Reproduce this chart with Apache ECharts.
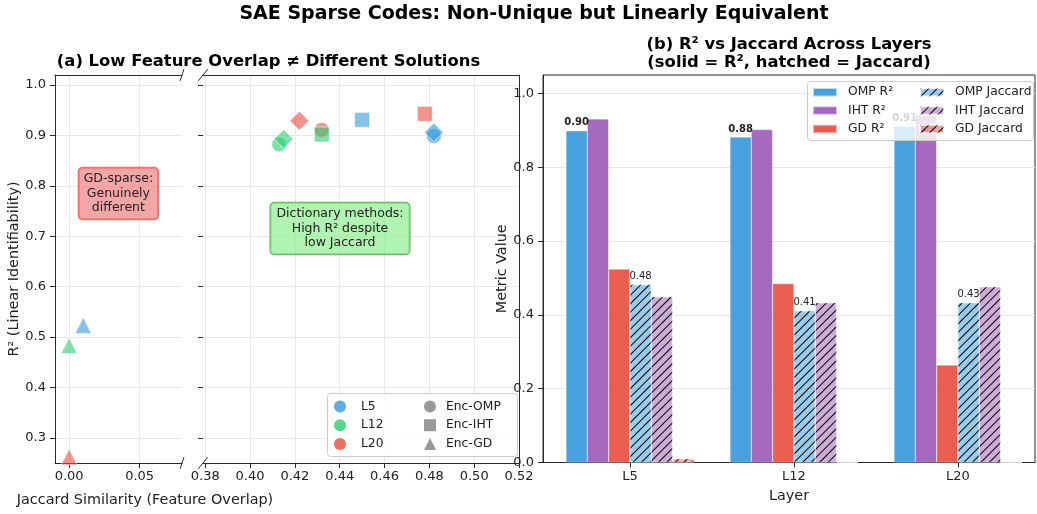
<!DOCTYPE html>
<html><head><meta charset="utf-8">
<script src="https://cdn.jsdelivr.net/npm/echarts@6/dist/echarts.min.js"></script>
<style>html,body{margin:0;padding:0;background:#fff}#c{width:1037px;height:514px}</style>
</head><body><div id="c"></div>
<script>
// ---------- data ----------
const layers = ['L5', 'L12', 'L20'];
const layerColors = ['#3498db', '#2ecc71', '#e74c3c'];
// Panel (a): Jaccard similarity vs R² for each layer
const encOmpJaccard = [0.482, 0.413, 0.432];
const encOmpR2      = [0.899, 0.882, 0.911];
const encIhtJaccard = [0.450, 0.432, 0.478];
const encIhtR2      = [0.931, 0.902, 0.943];
const encGdJaccard  = [0.010, 0.000, 0.000];
const encGdR2       = [0.523, 0.483, 0.262];
const dictJaccard   = [0.482, 0.415, 0.422];
const dictR2        = [0.906, 0.893, 0.929];
// Panel (b): bars per layer
const ompR2  = [0.899, 0.882, 0.911];
const ihtR2  = [0.931, 0.902, 0.943];
const gdR2   = [0.524, 0.485, 0.264];
const ompJac = [0.482, 0.411, 0.433];
const ihtJac = [0.449, 0.433, 0.476];
const gdJac  = [0.010, 0.000, 0.000];
// tick labels
const yTicksA    = [0.3, 0.4, 0.5, 0.6, 0.7, 0.8, 0.9, 1.0];
const xTicksLow  = [0.00, 0.05];
const xTicksHigh = [0.38, 0.40, 0.42, 0.44, 0.46, 0.48, 0.50, 0.52];
const yTicksB    = [0.0, 0.2, 0.4, 0.6, 0.8, 1.0];
const layerTicks = [0, 1, 2];

// ---------- styles ----------
const FONT = '"DejaVu Sans", sans-serif';
const TXT = '#222';
const AX = '#2a2a2a';
const GRIDC = '#e8e8e8';
const grids = [
  {left: 55, top: 75, width: 127, height: 388},
  {left: 203, top: 75, width: 316, height: 388},
  {left: 543, top: 75, width: 492, height: 387.5, show: true, borderColor: AX, borderWidth: 1, backgroundColor: 'transparent'}
];
const bRange = [-0.53, 2.47];
const pxPerUnit = grids[2].width / (bRange[1] - bRange[0]);
const barW = 0.13;

const tickStyle = {show: true, length: 5, lineStyle: {color: AX, width: 1}};
const labelStyle = {color: TXT, fontSize: 13, fontFamily: FONT};
const split = {show: true, lineStyle: {color: GRIDC, width: 1}};
const lineOnly = {axisLine: {show: true, lineStyle: {color: AX, width: 1}}, axisTick: {show: false}, axisLabel: {show: false}, splitLine: {show: false}};

const xAxes = [
  {gridIndex: 0, type: 'value', min: -0.01, max: 0.08, position: 'bottom',
   axisLine: {show: true, onZero: false, lineStyle: {color: AX, width: 1}},
   axisTick: Object.assign({customValues: xTicksLow}, tickStyle),
   axisLabel: Object.assign({customValues: xTicksLow, margin: 7, formatter: v => v.toFixed(2)}, labelStyle),
   splitLine: split},
  Object.assign({gridIndex: 0, type: 'value', min: -0.01, max: 0.08, position: 'top'}, lineOnly),
  {gridIndex: 1, type: 'value', min: 0.379, max: 0.52, position: 'bottom',
   axisLine: {show: true, onZero: false, lineStyle: {color: AX, width: 1}},
   axisTick: Object.assign({customValues: xTicksHigh}, tickStyle),
   axisLabel: Object.assign({customValues: xTicksHigh, margin: 7, formatter: v => v.toFixed(2)}, labelStyle),
   splitLine: split},
  Object.assign({gridIndex: 1, type: 'value', min: 0.379, max: 0.52, position: 'top'}, lineOnly),
  {gridIndex: 2, type: 'value', min: bRange[0], max: bRange[1], position: 'bottom',
   name: 'Layer', nameLocation: 'middle', nameGap: 27,
   nameTextStyle: {color: TXT, fontSize: 14.4, fontFamily: FONT},
   axisLine: {show: true, onZero: false, lineStyle: {color: AX, width: 1}},
   axisTick: Object.assign({customValues: layerTicks}, tickStyle),
   axisLabel: Object.assign({customValues: layerTicks, margin: 8, formatter: v => layers[Math.round(v)]}, labelStyle),
   splitLine: {show: false}}
];
const yAxes = [
  {gridIndex: 0, type: 'value', min: 0.25, max: 1.02, position: 'left',
   name: 'R² (Linear Identifiability)', nameLocation: 'middle', nameGap: 34, nameRotate: 90,
   nameTextStyle: {color: TXT, fontSize: 14.4, fontFamily: FONT},
   axisLine: {show: true, onZero: false, lineStyle: {color: AX, width: 1}},
   axisTick: Object.assign({customValues: yTicksA}, tickStyle),
   axisLabel: Object.assign({customValues: yTicksA, margin: 9, formatter: v => v.toFixed(1)}, labelStyle),
   splitLine: split},
  {gridIndex: 1, type: 'value', min: 0.25, max: 1.02, position: 'left',
   axisLine: {show: false},
   axisTick: Object.assign({customValues: yTicksA}, tickStyle),
   axisLabel: {show: false, customValues: yTicksA},
   splitLine: split},
  Object.assign({gridIndex: 1, type: 'value', min: 0.25, max: 1.02, position: 'right'}, lineOnly),
  {gridIndex: 2, type: 'value', min: 0, max: 1.05, position: 'left',
   name: 'Metric Value', nameLocation: 'middle', nameGap: 33, nameRotate: 90,
   nameTextStyle: {color: TXT, fontSize: 14.4, fontFamily: FONT},
   axisLine: {show: true, onZero: false, lineStyle: {color: AX, width: 1}},
   axisTick: Object.assign({customValues: yTicksB}, tickStyle),
   axisLabel: Object.assign({customValues: yTicksB, margin: 9, formatter: v => v.toFixed(1)}, labelStyle),
   splitLine: split}
];

// ---------- scatter series ----------
const methods = [
  {key: 'Enc-OMP', symbol: 'circle', size: 15, j: encOmpJaccard, r: encOmpR2},
  {key: 'Enc-IHT', symbol: 'rect', size: 15, j: encIhtJaccard, r: encIhtR2},
  {key: 'Enc-GD', symbol: 'triangle', size: 16, j: encGdJaccard, r: encGdR2},
  {key: 'Dict', symbol: 'diamond', size: 19, j: dictJaccard, r: dictR2}
];
const series = [];
methods.forEach(m => {
  layers.forEach((L, li) => {
    const pt = [m.j[li], m.r[li]];
    const low = pt[0] < 0.2;
    series.push({
      type: 'scatter', name: L + ' ' + m.key,
      xAxisIndex: low ? 0 : 2, yAxisIndex: low ? 0 : 1,
      symbol: m.symbol, symbolSize: m.size,
      itemStyle: {color: layerColors[li], opacity: 0.6, borderColor: '#fff', borderWidth: 1},
      data: [pt], z: 3
    });
  });
});
// legend proxies (no data)
layers.forEach((L, li) => series.push({type: 'scatter', name: L, xAxisIndex: 2, yAxisIndex: 1, symbol: 'circle', itemStyle: {color: layerColors[li]}, data: []}));
[['Enc-OMP', 'circle'], ['Enc-IHT', 'rect'], ['Enc-GD', 'triangle']].forEach(([n, s]) =>
  series.push({type: 'scatter', name: n, xAxisIndex: 2, yAxisIndex: 1, symbol: s, itemStyle: {color: '#808080'}, data: []}));

// ---------- bar series ----------
const hatch = {symbol: 'rect', symbolSize: 1, dashArrayX: [1, 0], dashArrayY: [1, 5], rotation: -Math.PI / 4, color: '#000'};
const bars = [
  {name: 'OMP R²', vals: ompR2, color: 'rgba(52,152,219,0.9)', label: 'bold'},
  {name: 'IHT R²', vals: ihtR2, color: 'rgba(155,89,182,0.9)'},
  {name: 'GD R²', vals: gdR2, color: 'rgba(231,76,60,0.9)'},
  {name: 'OMP Jaccard', vals: ompJac, color: 'rgba(52,152,219,0.5)', hatch: true, label: 'normal'},
  {name: 'IHT Jaccard', vals: ihtJac, color: 'rgba(155,89,182,0.5)', hatch: true},
  {name: 'GD Jaccard', vals: gdJac, color: 'rgba(231,76,60,0.5)', hatch: true}
];
bars.forEach((b, i) => {
  const s = {
    type: 'bar', name: b.name, xAxisIndex: 4, yAxisIndex: 3,
    barWidth: barW * pxPerUnit, barGap: '-100%',
    itemStyle: {color: b.color, borderColor: 'rgba(255,255,255,0.6)', borderWidth: 0.5},
    data: b.vals.map((v, k) => [k + (i - 2.5) * barW, v]), z: 2
  };
  if (b.hatch) s.itemStyle.decal = hatch;
  if (b.label) s.label = {show: true, position: 'top', distance: 3, fontSize: 10, fontFamily: FONT, color: TXT,
                          fontWeight: b.label, formatter: p => p.value[1].toFixed(2)};
  series.push(s);
});

// ---------- legends ----------
const legText = {color: TXT, fontSize: 12.3, fontFamily: FONT, lineHeight: 14};
const legends = [
  {data: ['L5', 'L12', 'L20'], orient: 'vertical', left: 334, top: 399.5, itemWidth: 12, itemHeight: 12, itemGap: 4.7,
   textStyle: Object.assign({padding: [0, 0, 0, 10]}, legText)},
  {data: ['Enc-OMP', 'Enc-IHT', 'Enc-GD'], orient: 'vertical', left: 424, top: 399.5, itemWidth: 12, itemHeight: 12, itemGap: 4.7,
   textStyle: Object.assign({padding: [0, 0, 0, 5]}, legText)},
  {data: ['OMP R²', 'IHT R²', 'GD R²'], orient: 'vertical', left: 812, top: 85.3, icon: 'rect', itemWidth: 24, itemHeight: 8.5, itemGap: 4.3,
   textStyle: Object.assign({padding: [0, 0, 0, 6]}, legText)},
  {data: ['OMP Jaccard', 'IHT Jaccard', 'GD Jaccard'], orient: 'vertical', left: 919, top: 85.3, icon: 'rect', itemWidth: 24, itemHeight: 8.5, itemGap: 4.3,
   textStyle: Object.assign({padding: [0, 0, 0, 6]}, legText)}
].map(l => Object.assign({selectedMode: false, padding: 0, z: 20}, l));

// ---------- decorations ----------
function brk(x, y, dx, dy) {
  return {type: 'line', z: 30, shape: {x1: x - dx, y1: y + dy, x2: x + dx, y2: y - dy}, style: {stroke: AX, lineWidth: 1}};
}
const graphic = [
  {type: 'text', x: 534, y: 14, z: 30, style: {text: 'SAE Sparse Codes: Non-Unique but Linearly Equivalent', font: 'bold 19px ' + FONT, fill: '#000', textAlign: 'center', textVerticalAlign: 'middle'}},
  {type: 'text', x: 268.5, y: 62, z: 30, style: {text: '(a) Low Feature Overlap ≠ Different Solutions', font: 'bold 16.4px ' + FONT, fill: '#000', textAlign: 'center', textVerticalAlign: 'middle'}},
  {type: 'text', x: 789, y: 45, z: 30, style: {text: '(b) R² vs Jaccard Across Layers', font: 'bold 16.4px ' + FONT, fill: '#000', textAlign: 'center', textVerticalAlign: 'middle'}},
  {type: 'text', x: 789, y: 63, z: 30, style: {text: '(solid = R², hatched = Jaccard)', font: 'bold 16.4px ' + FONT, fill: '#000', textAlign: 'center', textVerticalAlign: 'middle'}},
  {type: 'text', x: 145, y: 500, z: 30, style: {text: 'Jaccard Similarity (Feature Overlap)', font: '14.4px ' + FONT, fill: TXT, textAlign: 'center', textVerticalAlign: 'middle'}},
  {type: 'text', x: 118.4, y: 193.5, z: 30, style: {text: 'GD-sparse:\nGenuinely\ndifferent', font: '12.5px ' + FONT, fill: TXT, textAlign: 'center', textVerticalAlign: 'middle', lineHeight: 14.5,
    backgroundColor: 'rgba(240,128,128,0.7)', borderColor: 'rgba(255,0,0,0.6)', borderWidth: 1, borderRadius: 4, padding: [4, 5]}},
  {type: 'text', x: 340, y: 228.5, z: 30, style: {text: 'Dictionary methods:\nHigh R² despite\nlow Jaccard', font: '12.5px ' + FONT, fill: TXT, textAlign: 'center', textVerticalAlign: 'middle', lineHeight: 14.5,
    backgroundColor: 'rgba(144,238,144,0.7)', borderColor: 'rgba(0,128,0,0.6)', borderWidth: 1, borderRadius: 4, padding: [4, 6]}},
  {type: 'rect', z: 19, shape: {x: 327.5, y: 393.5, width: 190, height: 63, r: 3}, style: {fill: 'rgba(255,255,255,0.8)', stroke: '#cccccc', lineWidth: 1}},
  {type: 'rect', z: 19, shape: {x: 807.5, y: 81.5, width: 226, height: 59, r: 3}, style: {fill: 'rgba(255,255,255,0.8)', stroke: '#cccccc', lineWidth: 1}},
  brk(182, 75, 1.9, 5.8), brk(203, 75, 4.7, 5.8), brk(182, 463, 1.9, 5.8), brk(203, 463, 4.7, 5.8)
];

const chart = echarts.init(document.getElementById('c'), null, {renderer: 'canvas'});
chart.setOption({
  animation: false,
  backgroundColor: '#fff',
  textStyle: {fontFamily: FONT},
  grid: grids,
  xAxis: xAxes,
  yAxis: yAxes,
  legend: legends,
  series: series,
  graphic: graphic
});
</script></body></html>
